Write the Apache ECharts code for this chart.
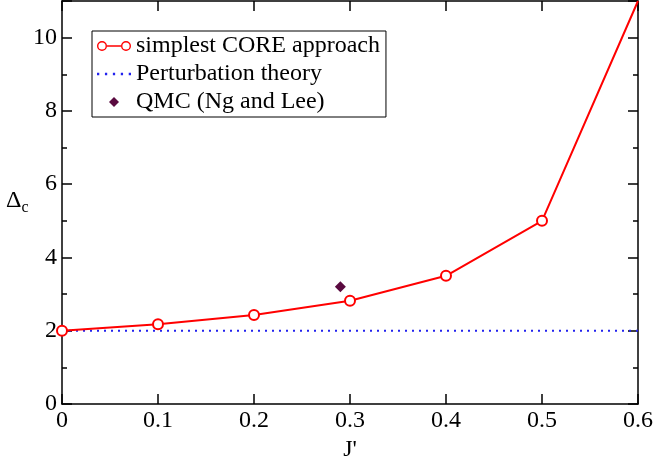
<!DOCTYPE html>
<html>
<head>
<meta charset="utf-8">
<script src="https://cdn.jsdelivr.net/npm/echarts@6/dist/echarts.min.js"></script>
<style>
  html, body { margin: 0; padding: 0; background: #fff; }
  #chart { width: 655px; height: 456px; }
</style>
</head>
<body>
<div id="chart"></div>
<script>
// data
const jValues = [0, 0.1, 0.2, 0.3, 0.4, 0.5, 0.6];
const coreValues = [2.0, 2.18, 2.43, 2.82, 3.5, 5.0, 11.0];
const pertX = [0, 0.6];
const pertValues = [2.0, 2.0];
const qmcPoint = [0.29, 3.2];

const serif = 'Liberation Serif, DejaVu Serif, serif';
const fs = 24;

const chart = echarts.init(document.getElementById('chart'));

const tickCommon = { show: true, inside: true, length: 10, lineStyle: { color: '#000', width: 1.5 } };
const minorCommon = { show: true, splitNumber: 2, length: 5, lineStyle: { color: '#000', width: 1.5 } };

// last point runs off the top of the frame, no marker there
const coreData = jValues.map((x, i) => {
  const d = { value: [x, coreValues[i]] };
  if (i === jValues.length - 1) d.symbol = 'none';
  return d;
});

// legend icons: o—o, dotted line, diamond
const ringLine = 'path://M0,5A5,5 0 1,1 10,5A5,5 0 1,1 0,5ZM1.4,5A3.6,3.6 0 1,0 8.6,5A3.6,3.6 0 1,0 1.4,5Z' +
  'M10,4.3L24,4.3L24,5.7L10,5.7Z' +
  'M24,5A5,5 0 1,1 34,5A5,5 0 1,1 24,5ZM25.4,5A3.6,3.6 0 1,0 32.6,5A3.6,3.6 0 1,0 25.4,5Z';
const dots = 'path://M0,0h2v2h-2zM7,0h2v2h-2zM14,0h2v2h-2zM21,0h2v2h-2zM28,0h2v2h-2z';
const diamond = 'path://M5,0L10,5L5,10L0,5Z';

let option = {
  animation: false,
  grid: { left: 62, right: 17, top: 1, bottom: 52, containLabel: false, outerBoundsMode: 'none' },
  legend: {
    left: 92, top: 31,
    orient: 'vertical',
    backgroundColor: '#fff',
    borderColor: '#000',
    borderWidth: 1,
    borderRadius: 0,
    padding: [3, 6, 3, 5],
    itemGap: 4,
    itemWidth: 34,
    itemHeight: 10,
    textStyle: { fontFamily: serif, fontSize: fs, color: '#000' },
    data: [
      { name: 'simplest CORE approach', icon: ringLine, itemStyle: { color: '#ff0000', borderWidth: 0 } },
      { name: 'Perturbation theory', icon: dots, itemStyle: { borderWidth: 0 } },
      { name: 'QMC (Ng and Lee)', icon: diamond, itemStyle: { borderWidth: 0 } }
    ]
  },
  xAxis: [
    {
      type: 'value', min: 0, max: 0.6, interval: 0.1,
      name: "J'", nameLocation: 'middle', nameGap: 27,
      nameTextStyle: { fontFamily: serif, fontSize: fs, color: '#000' },
      axisLine: { onZero: false, lineStyle: { color: '#000', width: 1.5 } },
      axisTick: tickCommon,
      axisLabel: { fontFamily: serif, fontSize: fs, color: '#000', margin: 5 },
      splitLine: { show: false }
    },
    {
      type: 'value', min: 0, max: 0.6, interval: 0.1, position: 'top',
      axisLine: { onZero: false, lineStyle: { color: '#000', width: 1.5 } },
      axisTick: tickCommon,
      axisLabel: { show: false },
      splitLine: { show: false }
    }
  ],
  yAxis: [
    {
      type: 'value', min: 0, max: 11, interval: 2,
      axisLine: { onZero: false, lineStyle: { color: '#000', width: 1.5 } },
      axisTick: tickCommon,
      minorTick: minorCommon,
      axisLabel: { fontFamily: serif, fontSize: fs, color: '#000', margin: 5, showMaxLabel: false },
      splitLine: { show: false }
    },
    {
      type: 'value', min: 0, max: 11, interval: 2, position: 'right',
      axisLine: { onZero: false, lineStyle: { color: '#000', width: 1.5 } },
      axisTick: tickCommon,
      minorTick: minorCommon,
      axisLabel: { show: false },
      splitLine: { show: false }
    }
  ],
  graphic: [
    {
      type: 'text', left: 6, top: 189,
      style: {
        text: '{d|Δ}{s|c}',
        rich: {
          d: { fontFamily: serif, fontSize: fs, fill: '#000' },
          s: { fontFamily: serif, fontSize: 16, fill: '#000', padding: [14, 0, 0, 0] }
        }
      }
    }
  ],
  series: [
    {
      name: 'Perturbation theory',
      type: 'line',
      data: pertX.map((x, i) => [x, pertValues[i]]),
      showSymbol: false,
      symbol: 'none',
      lineStyle: { color: '#2222ee', width: 2, type: [2, 5] },
      itemStyle: { color: '#2222ee' },
      z: 2
    },
    {
      name: 'simplest CORE approach',
      type: 'line',
      data: coreData,
      symbol: 'emptyCircle',
      symbolSize: 10,
      lineStyle: { color: '#ff0000', width: 2 },
      itemStyle: { color: '#ff0000', borderColor: '#ff0000', borderWidth: 1.5 },
      z: 3
    },
    {
      name: 'QMC (Ng and Lee)',
      type: 'scatter',
      data: [qmcPoint],
      symbol: 'diamond',
      symbolSize: 11,
      itemStyle: { color: '#5a0a40', opacity: 1 },
      z: 4
    }
  ]
};

chart.setOption(option);
</script>
</body>
</html>
